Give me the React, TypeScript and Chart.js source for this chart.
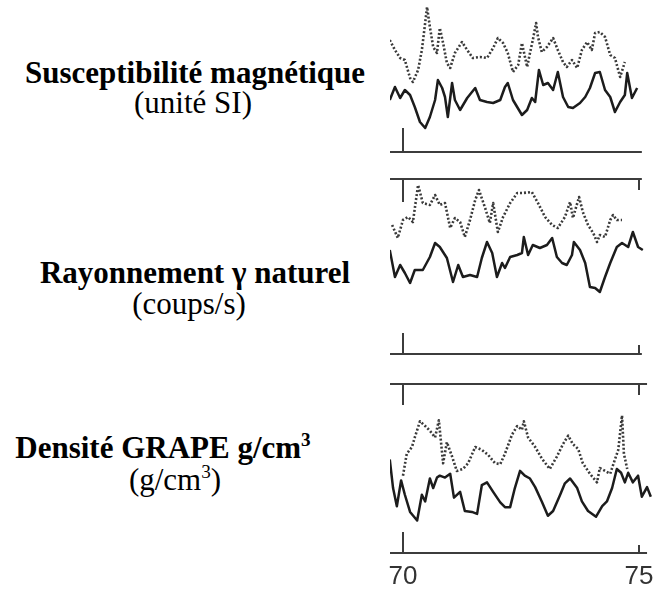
import React, { useEffect, useRef } from "react";
import { Chart, registerables } from "chart.js";

Chart.register(...registerables);

// ---------- Axis ----------
const depthTicks = [70, 75];
const xMin = 69.725;
const xMax = 75.275;

// ---------- Labels ----------
const panelTitles = ["Susceptibilité magnétique", "Rayonnement γ naturel", "Densité GRAPE g/cm"];
const panelTitleSup = ["", "", "3"];
const panelUnits = ["(unité SI)", "(coups/s)", "(g/cm"];
const panelUnitSup = ["", "", "3"];

// ---------- Panel 1 : susceptibilité magnétique ----------
const magDotDepth = [69.72, 69.83, 69.94, 70.04, 70.15, 70.21, 70.32, 70.4, 70.47, 70.51, 70.57, 70.64, 70.72, 70.78, 70.85, 70.93, 71.0, 71.1, 71.25, 71.36, 71.48, 71.63, 71.78, 71.91, 72.01, 72.12, 72.22, 72.33, 72.44, 72.52, 72.63, 72.69, 72.75, 72.82, 72.86, 72.94, 73.05, 73.18, 73.28, 73.39, 73.47, 73.58, 73.69, 73.79, 73.9, 74.0, 74.07, 74.17, 74.28, 74.39, 74.49, 74.6, 74.7];
const magDotValue = [112, 102, 94, 92, 74, 70, 82, 102, 129, 145, 125, 105, 99, 124, 109, 89, 84, 99, 110, 102, 94, 95, 94, 104, 114, 109, 99, 80, 87, 109, 85, 99, 112, 129, 115, 100, 105, 114, 102, 90, 85, 92, 84, 102, 110, 102, 119, 120, 115, 97, 94, 75, 90];
const magSolDepth = [69.72, 69.83, 69.94, 70.04, 70.15, 70.25, 70.36, 70.47, 70.57, 70.68, 70.74, 70.83, 70.89, 70.95, 71.04, 71.1, 71.21, 71.36, 71.53, 71.63, 71.78, 71.91, 72.06, 72.16, 72.22, 72.33, 72.52, 72.63, 72.73, 72.8, 72.88, 72.97, 73.07, 73.18, 73.28, 73.39, 73.5, 73.6, 73.75, 73.86, 73.96, 74.07, 74.17, 74.28, 74.39, 74.49, 74.6, 74.7, 74.75, 74.85, 74.96];
const magSolValue = [52, 65, 54, 62, 57, 45, 30, 24, 35, 52, 72, 64, 55, 35, 69, 52, 42, 54, 64, 52, 50, 49, 52, 65, 69, 52, 37, 42, 54, 50, 82, 67, 69, 62, 80, 55, 45, 44, 49, 55, 64, 79, 80, 62, 55, 40, 50, 57, 79, 54, 64];

// ---------- Panel 2 : rayonnement gamma naturel ----------
const gamDotDepth = [69.77, 69.89, 70.0, 70.11, 70.21, 70.32, 70.42, 70.57, 70.68, 70.78, 70.89, 71.0, 71.1, 71.21, 71.31, 71.42, 71.53, 71.61, 71.74, 71.84, 71.91, 72.01, 72.12, 72.27, 72.42, 72.54, 72.73, 72.86, 73.01, 73.16, 73.28, 73.43, 73.54, 73.6, 73.73, 73.81, 73.92, 74.03, 74.11, 74.17, 74.28, 74.39, 74.45, 74.53, 74.64];
const gamDotValue = [129, 116, 134, 137, 132, 169, 151, 149, 159, 149, 151, 126, 136, 132, 117, 134, 154, 164, 146, 131, 151, 122, 137, 151, 161, 161, 162, 151, 137, 129, 126, 137, 152, 136, 157, 142, 129, 121, 112, 119, 117, 134, 139, 134, 134];
const gamSolDepth = [69.72, 69.83, 69.94, 70.04, 70.15, 70.25, 70.42, 70.57, 70.68, 70.78, 70.93, 71.06, 71.17, 71.27, 71.42, 71.57, 71.67, 71.78, 71.89, 71.99, 72.1, 72.16, 72.27, 72.42, 72.52, 72.56, 72.65, 72.75, 72.9, 73.05, 73.16, 73.26, 73.37, 73.47, 73.58, 73.62, 73.75, 73.86, 73.96, 74.07, 74.17, 74.28, 74.39, 74.53, 74.64, 74.77, 74.87, 74.98, 75.08];
const gamSolValue = [104, 77, 89, 81, 71, 84, 84, 97, 111, 107, 96, 72, 89, 77, 79, 77, 96, 112, 101, 77, 91, 86, 97, 99, 101, 117, 99, 109, 106, 109, 116, 97, 91, 89, 99, 112, 104, 91, 67, 66, 62, 77, 91, 107, 111, 107, 122, 107, 104];

// ---------- Panel 3 : densité GRAPE ----------
const denDotDepth = [70.0, 70.08, 70.19, 70.25, 70.36, 70.47, 70.57, 70.68, 70.76, 70.85, 70.93, 71.04, 71.14, 71.27, 71.38, 71.53, 71.67, 71.8, 71.95, 72.06, 72.16, 72.31, 72.42, 72.52, 72.56, 72.65, 72.8, 72.94, 73.11, 73.26, 73.39, 73.5, 73.6, 73.71, 73.81, 73.96, 74.11, 74.17, 74.28, 74.39, 74.49, 74.56, 74.64, 74.68, 74.75];
const denDotValue = [81, 104, 111, 121, 138, 133, 128, 121, 139, 94, 116, 101, 86, 88, 94, 111, 108, 103, 94, 93, 104, 124, 133, 129, 138, 121, 111, 99, 88, 101, 114, 123, 114, 109, 94, 83, 74, 89, 86, 83, 98, 108, 144, 104, 88];
const denSolDepth = [69.72, 69.79, 69.87, 69.96, 70.04, 70.15, 70.3, 70.4, 70.47, 70.57, 70.64, 70.72, 70.78, 70.89, 71.0, 71.08, 71.21, 71.31, 71.46, 71.57, 71.67, 71.78, 71.91, 72.06, 72.16, 72.27, 72.37, 72.48, 72.58, 72.69, 72.8, 72.94, 73.07, 73.18, 73.33, 73.43, 73.54, 73.69, 73.79, 73.92, 74.09, 74.22, 74.32, 74.43, 74.53, 74.62, 74.7, 74.77, 74.87, 74.98, 75.06, 75.17, 75.25];
const denSolValue = [98, 68, 49, 76, 61, 43, 34, 61, 54, 78, 68, 79, 81, 79, 83, 58, 64, 44, 43, 41, 71, 74, 64, 53, 48, 48, 68, 86, 81, 78, 69, 54, 39, 44, 61, 73, 78, 68, 54, 44, 38, 49, 54, 68, 88, 84, 74, 84, 74, 81, 59, 69, 59];

const serif = '"Liberation Serif", "Times New Roman", serif';
const sans = '"Liberation Sans", Arial, sans-serif';

function makeDataset(depth: number[], values: number[], dotted: boolean) {
  return {
    data: depth.map((d, i) => ({ x: d, y: values[i] })),
    borderColor: dotted ? "#3a3a3a" : "#1c1c1c",
    borderWidth: dotted ? 2.6 : 2.5,
    borderDash: dotted ? [2, 2] : [],
    pointRadius: 0,
    tension: 0,
    fill: false,
    borderJoinStyle: "round" as const,
  };
}

const framePlugin = {
  id: "frame",
  afterDraw(chart: any, _args: any, opts: any) {
    const { ctx, chartArea } = chart;
    const xs = chart.scales.x;
    const left = chartArea.left;
    const right = xs.getPixelForValue(opts.lineEnd);
    const xa = xs.getPixelForValue(depthTicks[0]);
    const xb = xs.getPixelForValue(depthTicks[1]);
    const top = chartArea.top;
    const bottom = chartArea.bottom;
    ctx.save();
    ctx.strokeStyle = "#3c3c3c";
    ctx.lineWidth = 2;
    const seg = (x1: number, y1: number, x2: number, y2: number) => {
      ctx.beginPath();
      ctx.moveTo(x1, y1);
      ctx.lineTo(x2, y2);
      ctx.stroke();
    };
    if (opts.top) seg(left, top, right, top);
    if (opts.bottom) seg(left, bottom, right, bottom);
    if (opts.leftTop) seg(xa, top, xa, top + opts.leftTop);
    if (opts.leftBottom) seg(xa, bottom, xa, bottom - opts.leftBottom);
    if (opts.rightTop) seg(xb, top, xb, top + opts.rightTop);
    if (opts.rightBottom) seg(xb, bottom, xb, bottom - opts.rightBottom);
    ctx.restore();
  },
};

function makeConfig(datasets: any[], yMax: number, pad: any, frame: any, showX: boolean) {
  return {
    type: "line" as const,
    data: { datasets },
    plugins: [framePlugin],
    options: {
      animation: false as const,
      responsive: false,
      maintainAspectRatio: false,
      layout: { padding: pad },
      plugins: {
        legend: { display: false },
        tooltip: { enabled: false },
        frame,
      },
      scales: {
        x: {
          type: "linear" as const,
          min: xMin,
          max: xMax,
          display: showX,
          grid: { display: false },
          border: { display: false },
          afterBuildTicks: (scale: any) => {
            scale.ticks = depthTicks.map((v) => ({ value: v }));
          },
          ticks: {
            font: { family: sans, size: 26 },
            color: "#333",
            padding: 0,
            maxRotation: 0,
            autoSkip: false,
          },
        },
        y: { display: false, min: 0, max: yMax },
      },
    },
  };
}

const labelLines = [
  { text: panelTitles[0], sup: panelTitleSup[0], bold: true, center: 195, top: 57, tail: "" },
  { text: panelUnits[0], sup: panelUnitSup[0], bold: false, center: 193, top: 87, tail: "" },
  { text: panelTitles[1], sup: panelTitleSup[1], bold: true, center: 195, top: 257, tail: "" },
  { text: panelUnits[1], sup: panelUnitSup[1], bold: false, center: 189, top: 288, tail: "" },
  { text: panelTitles[2], sup: panelTitleSup[2], bold: true, center: 163, top: 432, tail: "" },
  { text: panelUnits[2], sup: panelUnitSup[2], bold: false, center: 175, top: 464, tail: ")" },
];

export default function App() {
  const c1 = useRef<HTMLCanvasElement>(null);
  const c2 = useRef<HTMLCanvasElement>(null);
  const c3 = useRef<HTMLCanvasElement>(null);

  useEffect(() => {
    document.body.style.margin = "0";
    const charts: Chart[] = [];
    charts.push(
      new Chart(
        c1.current as HTMLCanvasElement,
        makeConfig(
          [makeDataset(magDotDepth, magDotValue, true), makeDataset(magSolDepth, magSolValue, false)],
          152,
          { left: 10, right: 8, top: 0, bottom: 8 },
          { bottom: true, leftBottom: 24, lineEnd: 75.06 },
          false
        ) as any
      )
    );
    charts.push(
      new Chart(
        c2.current as HTMLCanvasElement,
        makeConfig(
          [makeDataset(gamDotDepth, gamDotValue, true), makeDataset(gamSolDepth, gamSolValue, false)],
          175,
          { left: 10, right: 8, top: 9, bottom: 11 },
          { top: true, bottom: true, leftTop: 23, leftBottom: 21, rightTop: 11, rightBottom: 9, lineEnd: 75.06 },
          false
        ) as any
      )
    );
    charts.push(
      new Chart(
        c3.current as HTMLCanvasElement,
        makeConfig(
          [makeDataset(denDotDepth, denDotValue, true), makeDataset(denSolDepth, denSolValue, false)],
          177,
          { left: 10, right: 8, top: 9, bottom: 7.8 },
          { top: true, bottom: true, leftTop: 21, leftBottom: 21, rightTop: 11, rightBottom: 8, lineEnd: 75.17 },
          true
        ) as any
      )
    );
    return () => charts.forEach((c) => c.destroy());
  }, []);

  return (
    <div style={{ position: "relative", width: 660, height: 600, background: "#fff", overflow: "hidden" }}>
      {labelLines.map((l, i) => (
        <div
          key={i}
          style={{
            position: "absolute",
            left: l.center - 200,
            width: 400,
            top: l.top,
            textAlign: "center",
            fontFamily: serif,
            fontSize: 31,
            lineHeight: "31px",
            fontWeight: l.bold ? 700 : 400,
            color: "#000",
            whiteSpace: "nowrap",
          }}
        >
          {l.text}
          {l.sup ? (
            <sup style={{ fontSize: "0.62em", lineHeight: 0, verticalAlign: "0.6em" }}>{l.sup}</sup>
          ) : null}
          {l.tail}
        </div>
      ))}
      <canvas ref={c1} width={280} height={160} style={{ position: "absolute", left: 380, top: 0 }} />
      <canvas ref={c2} width={280} height={195} style={{ position: "absolute", left: 380, top: 170 }} />
      <canvas ref={c3} width={280} height={225} style={{ position: "absolute", left: 380, top: 375 }} />
    </div>
  );
}
